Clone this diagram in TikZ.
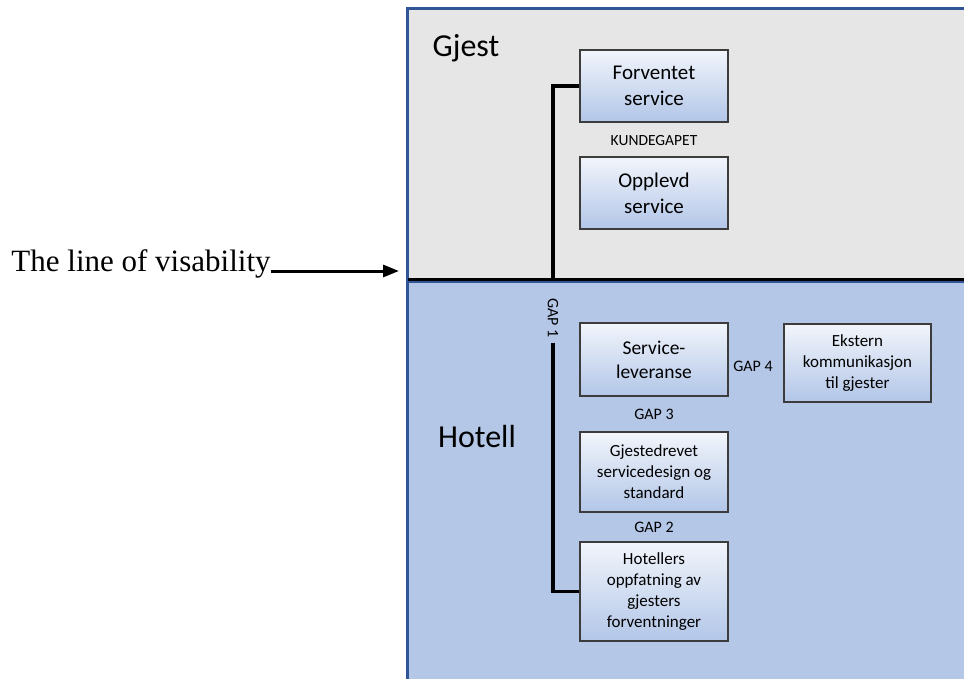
\documentclass[tikz,border=0pt]{standalone}
\usepackage{fontspec}
\setmainfont{Carlito}
\newfontfamily\timesfont{Liberation Serif}
\usetikzlibrary{arrows.meta,positioning}
\definecolor{Frame}{HTML}{2F5597}
\definecolor{GuestBg}{HTML}{E7E6E6}
\definecolor{HotelBg}{HTML}{B4C7E7}
\definecolor{BoxTop}{HTML}{F2F5FB}
\definecolor{BoxBot}{HTML}{B2C6E8}
\definecolor{BoxLine}{HTML}{3C3C3C}

\begin{document}
\begin{tikzpicture}[
      x=1pt, y=-1pt,
      >=Latex,
      box/.style={draw=BoxLine, line width=1.4pt, top color=BoxTop, bottom color=BoxBot,
                  minimum width=148pt, align=center, inner sep=2pt},
      bigtxt/.style={font=\fontsize{21}{26}\selectfont},
      midtxt/.style={font=\fontsize{19.5}{24}\selectfont},
      smalltxt/.style={font=\fontsize{17}{21}\selectfont},
      gaplabel/.style={font=\fontsize{16}{18}\selectfont, inner sep=1pt},
      zone/.style={font=\fontsize{32}{36}\selectfont},
      link/.style={line width=3.5pt}
    ]
      \useasboundingbox (0,0) rectangle (964,679);
      \begin{scope}
      \clip (0,0) rectangle (964,679);
      % the two zones
      \draw[Frame, line width=3pt, fill=GuestBg] (407,9) rectangle (980,279);
      \draw[Frame, line width=3pt, fill=HotelBg] (407,281) rectangle (980,700);
      \end{scope}
      \coordinate (visL) at (408,279);
      \coordinate (visR) at (964,279);
      \coordinate (vis) at (553,279);
      \coordinate (tip) at (399,271);
      \draw[line width=3pt] (visL) -- (visR);

      \node[zone] (gjest) at (466,48) {Gjest};
      \node[zone] (hotell) at (477,437) {Hotell};

      % guest side
      \node[box, bigtxt, minimum height=72pt] (fs) at (654,86) {Forventet\\service};
      \node[box, bigtxt, minimum height=72pt] (os) at (654,193) {Opplevd\\service};
      \node[gaplabel, font=\fontsize{15.5}{18}\selectfont] (kg) at (654,141) {KUNDEGAPET};

      % hotel side
      \node[box, midtxt, minimum height=73pt] (sl) at (654,359.5) {Service-\\leveranse};
      \node[box, smalltxt, minimum width=147pt, minimum height=78pt] (ek) at (857.5,363) {Ekstern\\kommunikasjon\\til gjester};
      \node[box, smalltxt, minimum height=80pt] (gs) at (654,472) {Gjestedrevet\\servicedesign og\\standard};
      \node[box, smalltxt, minimum height=99pt] (hf) at (654,591.5) {Hotellers\\oppfatning av\\gjesters\\forventninger};

      \node[gaplabel] (g4) at (753,366) {GAP 4};
      \node[gaplabel] (g3) at (654,414) {GAP 3};
      \node[gaplabel] (g2) at (654,527) {GAP 2};
      \node[gaplabel, rotate=-90, inner sep=5pt] (g1) at (553,318) {GAP 1};

      \draw[link] (fs.west) -| (vis);
      \draw[link] (g1.east) |- (hf.west);

      % line of visibility
      \node[font=\timesfont\fontsize{31}{36}\selectfont, inner sep=0pt] (lov) at (141,264) {The line of visability};
      \draw[-{Triangle[length=16pt,width=12pt]}, line width=3pt] (lov.east |- tip) -- (tip);
    \end{tikzpicture}
\end{document}
